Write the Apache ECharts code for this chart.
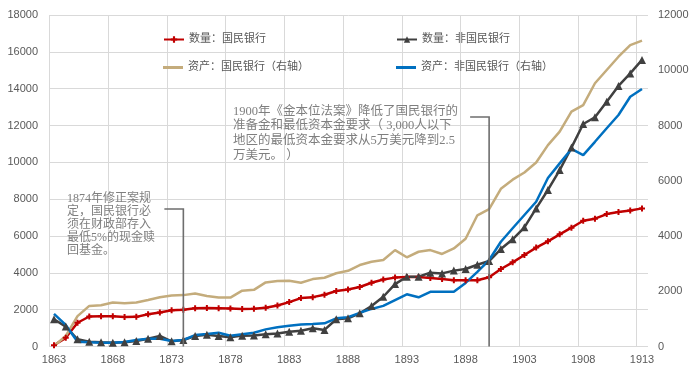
<!DOCTYPE html>
<html>
<head>
<meta charset="utf-8">
<script src="https://cdn.jsdelivr.net/npm/echarts@6/dist/echarts.min.js"></script>
<style>
  html, body { margin: 0; padding: 0; background: #fff; }
  #chart { width: 700px; height: 377px; }
</style>
</head>
<body>
<div id="chart"></div>
<script>
const years = [
  '1863', '1864', '1865', '1866', '1867', '1868', '1869', '1870', '1871', '1872',
  '1873', '1874', '1875', '1876', '1877', '1878', '1879', '1880', '1881', '1882',
  '1883', '1884', '1885', '1886', '1887', '1888', '1889', '1890', '1891', '1892',
  '1893', '1894', '1895', '1896', '1897', '1898', '1899', '1900', '1901', '1902',
  '1903', '1904', '1905', '1906', '1907', '1908', '1909', '1910', '1911', '1912',
  '1913'
];

// 数量：国民银行 (left axis)
const countNational = [
  66, 470, 1290, 1630, 1640, 1640, 1600, 1610, 1750, 1850,
  1970, 2000, 2080, 2090, 2080, 2060, 2040, 2050, 2100, 2230,
  2410, 2630, 2680, 2810, 3010, 3100, 3230, 3460, 3640, 3740,
  3770, 3770, 3720, 3660, 3600, 3600, 3600, 3760, 4210, 4570,
  4970, 5370, 5710, 6090, 6450, 6830, 6940, 7190, 7300, 7390,
  7500
];

// 数量：非国民银行 (left axis)
const countState = [
  1480, 1080, 390, 260, 230, 210, 230, 300, 420, 570,
  280, 350, 570, 640, 570, 500, 590, 600, 660, 700,
  800, 860, 990, 900, 1480, 1530, 1800, 2200, 2700, 3390,
  3790, 3790, 4010, 3970, 4120, 4210, 4440, 4640, 5290, 5820,
  6470, 7500, 8500, 9580, 10800, 12080, 12450, 13290, 14150, 14830,
  15560
];

// 资产：国民银行（右轴）
const assetNational = [
  20, 380, 1100, 1470, 1490, 1590, 1570, 1590, 1680, 1780,
  1850, 1860, 1920, 1830, 1770, 1770, 2020, 2050, 2320, 2370,
  2380, 2310, 2440, 2490, 2650, 2740, 2950, 3070, 3130, 3490,
  3230, 3430, 3490, 3350, 3550, 3900, 4750, 4970, 5710, 6040,
  6300, 6660, 7290, 7780, 8500, 8740, 9530, 10010, 10490, 10910,
  11070
];

// 资产：非国民银行（右轴）
const assetState = [
  1180, 780, 175, 150, 140, 140, 160, 235, 280, 280,
  200, 235, 415, 450, 500, 390, 440, 500, 620, 700,
  750, 800, 815, 840, 1020, 1060, 1220, 1360, 1470, 1680,
  1890, 1780, 1980, 1980, 1980, 2300, 2700, 3130, 3790, 4280,
  4760, 5240, 6100, 6630, 7150, 6930, 7410, 7900, 8380, 9040,
  9320
];

const note1874 = '1874年修正案规\n定，国民银行必\n须在财政部存入\n最低5%的现金赎\n回基金。';
const note1900 = '1900年《金本位法案》降低了国民银行的\n准备金和最低资本金要求（ 3,000人以下\n地区的最低资本金要求从5万美元降到2.5\n万美元。 ）';

const labelColor = '#595959';
const gridColor = '#d9d9d9';
const cjkFont = "'Liberation Serif', 'Noto Sans CJK SC', serif";
const plusSymbol = 'path://M2,0 H4 V2 H6 V4 H4 V6 H2 V4 H0 V2 H2 Z';
const lineIcon = 'path://M0,0 H20 V3 H0 Z';

const chart = echarts.init(document.getElementById('chart'), null, { renderer: 'canvas' });

function legendAt(name, left, top, plainLine) {
  return {
    data: [plainLine ? { name: name, icon: lineIcon } : name],
    left: left,
    top: top,
    itemWidth: 20,
    itemHeight: plainLine ? 3 : 8,
    itemGap: 4,
    textStyle: { color: labelColor, fontSize: 11, fontFamily: cjkFont }
  };
}

const plainNumber = value => String(value);

const option = {
  animation: false,
  backgroundColor: '#fff',
  legend: [
    legendAt('数量：国民银行', 158, 29, false),
    legendAt('数量：非国民银行', 391, 29, false),
    legendAt('资产：国民银行（右轴）', 158, 57, true),
    legendAt('资产：非国民银行（右轴）', 391, 57, true)
  ],
  grid: [
    { left: 54, right: 58, top: 15, bottom: 30.5 },
    { left: 49.3, right: 52, top: 15, bottom: 30.5 }
  ],
  xAxis: [
    {
      type: 'category',
      gridIndex: 0,
      data: years,
      boundaryGap: false,
      axisLine: { show: false },
      axisTick: { show: false },
      splitLine: { show: false },
      axisLabel: { interval: 4, color: labelColor, fontSize: 11, margin: 8, fontFamily: 'Liberation Sans' }
    },
    {
      // background vertical gridlines (sit slightly left of the year ticks, as in the source)
      type: 'value',
      gridIndex: 1,
      min: 0,
      max: 50.96,
      interval: 5,
      axisLine: { show: false },
      axisTick: { show: false },
      axisLabel: { show: false },
      splitLine: { show: true, showMaxLine: false, lineStyle: { color: gridColor, width: 1 } }
    }
  ],
  yAxis: [
    {
      type: 'value',
      gridIndex: 0,
      position: 'left',
      min: 0,
      max: 18000,
      interval: 2000,
      axisLine: { show: false },
      axisTick: { show: false },
      splitLine: { show: false },
      axisLabel: { color: labelColor, fontSize: 11, margin: 16, fontFamily: 'Liberation Sans', formatter: plainNumber }
    },
    {
      type: 'value',
      gridIndex: 0,
      position: 'right',
      min: 0,
      max: 12000,
      interval: 2000,
      axisLine: { show: false },
      axisTick: { show: false },
      splitLine: { show: false },
      axisLabel: { color: labelColor, fontSize: 11, margin: 16, fontFamily: 'Liberation Sans', formatter: plainNumber }
    },
    {
      type: 'value',
      gridIndex: 1,
      min: 0,
      max: 18000,
      interval: 2000,
      axisLine: { show: false },
      axisTick: { show: false },
      axisLabel: { show: false },
      splitLine: { show: true, lineStyle: { color: gridColor, width: 1 } }
    }
  ],
  series: [
    {
      name: '数量：国民银行',
      type: 'line',
      xAxisIndex: 0,
      yAxisIndex: 0,
      data: countNational,
      symbol: plusSymbol,
      symbolSize: 6,
      showAllSymbol: true,
      color: '#C00000',
      itemStyle: { color: '#C00000' },
      lineStyle: { color: '#C00000', width: 2.5 }
    },
    {
      name: '数量：非国民银行',
      type: 'line',
      xAxisIndex: 0,
      yAxisIndex: 0,
      data: countState,
      symbol: 'triangle',
      symbolSize: 8,
      showAllSymbol: true,
      color: '#404040',
      itemStyle: { color: '#404040' },
      lineStyle: { color: '#404040', width: 2.5 }
    },
    {
      name: '资产：国民银行（右轴）',
      type: 'line',
      xAxisIndex: 0,
      yAxisIndex: 1,
      data: assetNational,
      symbol: 'none',
      color: '#C4AC7C',
      lineStyle: { color: '#C4AC7C', width: 2.5 }
    },
    {
      name: '资产：非国民银行（右轴）',
      type: 'line',
      xAxisIndex: 0,
      yAxisIndex: 1,
      data: assetState,
      symbol: 'none',
      color: '#0070C0',
      lineStyle: { color: '#0070C0', width: 2.5 }
    }
  ]
};

chart.setOption(option);

// annotation callouts, anchored to the year ticks
const x1874 = chart.convertToPixel({ xAxisIndex: 0 }, '1874');
const x1900 = chart.convertToPixel({ xAxisIndex: 0 }, '1900');
const yBase = chart.convertToPixel({ yAxisIndex: 0 }, 0);
const calloutStyle = { stroke: '#6e6e6e', lineWidth: 1.6, fill: null };

chart.setOption({
  graphic: [
    {
      type: 'polyline',
      shape: { points: [[x1874 - 19, 209], [x1874, 209], [x1874, yBase]] },
      style: calloutStyle,
      z: 10
    },
    {
      type: 'polyline',
      shape: { points: [[x1900 - 19, 117], [x1900, 117], [x1900, yBase]] },
      style: calloutStyle,
      z: 10
    },
    {
      type: 'text',
      left: 67,
      top: 192,
      style: { text: note1874, fill: '#7f7f7f', font: "12px 'Liberation Serif', 'Noto Sans CJK SC'", lineHeight: 13 },
      z: 10
    },
    {
      type: 'text',
      left: 233,
      top: 104,
      style: { text: note1900, fill: '#7f7f7f', font: "12.5px 'Liberation Serif', 'Noto Sans CJK SC'", lineHeight: 14.7 },
      z: 10
    }
  ]
});
</script>
</body>
</html>
